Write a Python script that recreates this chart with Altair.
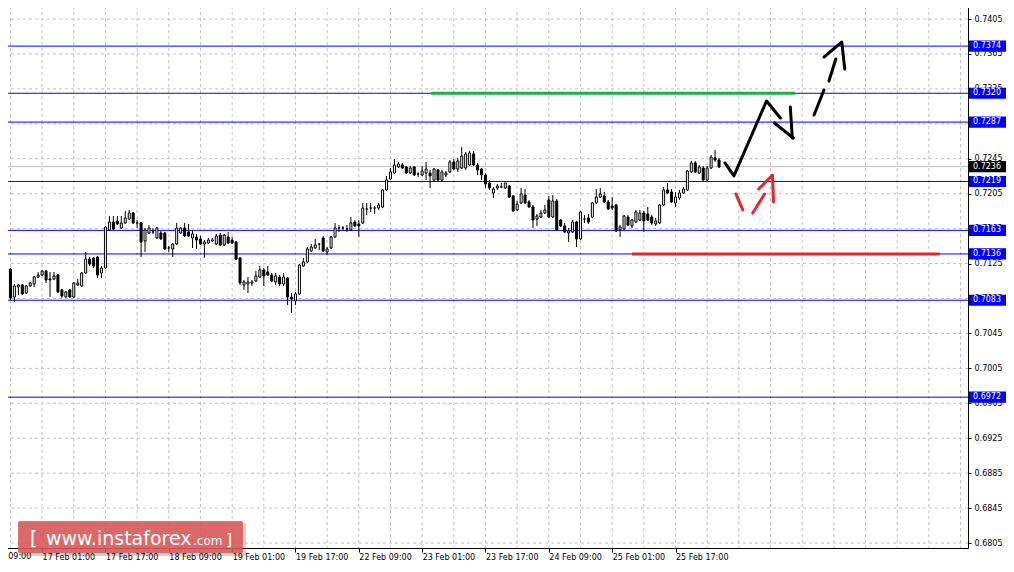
import altair as alt
import pandas as pd

# ---------------- candle data (H1 bars, index = bar number) ----------------
opens = [
    0.71440, 0.71188, 0.70867, 0.70982, 0.71005, 0.70913, 0.70993, 0.71016, 0.71096, 0.71119,
    0.71165, 0.71073, 0.71073, 0.71119, 0.70948, 0.70867, 0.70948, 0.70867, 0.71005, 0.70993,
    0.71142, 0.71302, 0.71314, 0.71325, 0.71142, 0.71199, 0.71635, 0.71726, 0.71738, 0.71657,
    0.71715, 0.71760, 0.71829, 0.71715, 0.71715, 0.71509, 0.71600, 0.71612, 0.71543, 0.71600,
    0.71600, 0.71428, 0.71417, 0.71474, 0.71600, 0.71657, 0.71612, 0.71543, 0.71554, 0.71532,
    0.71474, 0.71486, 0.71509, 0.71474, 0.71577, 0.71463, 0.71554, 0.71520, 0.71497, 0.71314,
    0.71005, 0.71016, 0.71028, 0.71051, 0.71096, 0.71177, 0.71154, 0.71119, 0.71039, 0.71096,
    0.71016, 0.71085, 0.70867, 0.70822, 0.70902, 0.71222, 0.71268, 0.71394, 0.71428, 0.71474,
    0.71543, 0.71383, 0.71428, 0.71554, 0.71657, 0.71657, 0.71646, 0.71635, 0.71726, 0.71703,
    0.71715, 0.71875, 0.71886, 0.71886, 0.71886, 0.71898, 0.72093, 0.72218, 0.72287, 0.72356,
    0.72379, 0.72356, 0.72287, 0.72356, 0.72276, 0.72264, 0.72287, 0.72287, 0.72207, 0.72322,
    0.72207, 0.72264, 0.72299, 0.72413, 0.72333, 0.72344, 0.72344, 0.72379, 0.72505, 0.72379,
    0.72333, 0.72264, 0.72173, 0.72058, 0.72115, 0.72127, 0.72115, 0.72138, 0.72024, 0.71864,
    0.71944, 0.72035, 0.71955, 0.71898, 0.71760, 0.71783, 0.71829, 0.71978, 0.71783, 0.71967,
    0.71749, 0.71680, 0.71600, 0.71612, 0.71726, 0.71532, 0.71760, 0.71772, 0.71783, 0.71944,
    0.72012, 0.72024, 0.71955, 0.71909, 0.71921, 0.71635, 0.71646, 0.71783, 0.71680, 0.71726,
    0.71749, 0.71829, 0.71818, 0.71783, 0.71703, 0.71715, 0.71921, 0.72093, 0.72070, 0.71944,
    0.72001, 0.72058, 0.72093, 0.72299, 0.72402, 0.72287, 0.72344, 0.72207, 0.72344, 0.72459, 0.72436,
]
closes = [
    0.71188, 0.70856, 0.70993, 0.71005, 0.70902, 0.70993, 0.71028, 0.71096, 0.71119, 0.71165,
    0.71062, 0.71062, 0.71108, 0.70925, 0.70879, 0.70925, 0.70867, 0.71028, 0.71028, 0.71142,
    0.71302, 0.71245, 0.71222, 0.71119, 0.71199, 0.71669, 0.71726, 0.71646, 0.71703, 0.71715,
    0.71772, 0.71829, 0.71715, 0.71715, 0.71497, 0.71635, 0.71657, 0.71612, 0.71657, 0.71532,
    0.71417, 0.71428, 0.71474, 0.71657, 0.71657, 0.71566, 0.71566, 0.71589, 0.71520, 0.71474,
    0.71497, 0.71520, 0.71520, 0.71566, 0.71463, 0.71577, 0.71486, 0.71486, 0.71302, 0.71028,
    0.71039, 0.71039, 0.71039, 0.71108, 0.71177, 0.71108, 0.71119, 0.71051, 0.71108, 0.71016,
    0.71096, 0.70867, 0.70845, 0.70902, 0.71234, 0.71268, 0.71417, 0.71440, 0.71463, 0.71474,
    0.71394, 0.71417, 0.71554, 0.71657, 0.71657, 0.71657, 0.71646, 0.71715, 0.71680, 0.71680,
    0.71886, 0.71875, 0.71886, 0.71886, 0.71921, 0.72093, 0.72207, 0.72299, 0.72379, 0.72390,
    0.72344, 0.72287, 0.72344, 0.72264, 0.72276, 0.72310, 0.72333, 0.72253, 0.72333, 0.72207,
    0.72299, 0.72287, 0.72413, 0.72333, 0.72425, 0.72482, 0.72505, 0.72516, 0.72379, 0.72322,
    0.72264, 0.72161, 0.72115, 0.72104, 0.72138, 0.72127, 0.72173, 0.72012, 0.71852, 0.71932,
    0.72047, 0.71944, 0.71898, 0.71749, 0.71795, 0.71829, 0.71864, 0.71783, 0.71967, 0.71635,
    0.71680, 0.71612, 0.71623, 0.71726, 0.71532, 0.71841, 0.71760, 0.71726, 0.71944, 0.72012,
    0.72047, 0.71955, 0.71875, 0.71886, 0.71623, 0.71669, 0.71795, 0.71692, 0.71749, 0.71841,
    0.71829, 0.71738, 0.71749, 0.71715, 0.71738, 0.71921, 0.72093, 0.72058, 0.71955, 0.72012,
    0.72058, 0.72104, 0.72310, 0.72402, 0.72299, 0.72356, 0.72207, 0.72344, 0.72470, 0.72436, 0.72356,
]
highs = [
    0.71497, 0.71199, 0.71016, 0.71016, 0.71016, 0.71005, 0.71039, 0.71108, 0.71154, 0.71177,
    0.71177, 0.71154, 0.71154, 0.71131, 0.70959, 0.70936, 0.70959, 0.71039, 0.71073, 0.71154,
    0.71383, 0.71325, 0.71325, 0.71337, 0.71222, 0.71680, 0.71795, 0.71795, 0.71795, 0.71795,
    0.71852, 0.71864, 0.71841, 0.71749, 0.71726, 0.71657, 0.71692, 0.71657, 0.71669, 0.71623,
    0.71612, 0.71451, 0.71486, 0.71715, 0.71669, 0.71715, 0.71703, 0.71635, 0.71589, 0.71566,
    0.71520, 0.71543, 0.71543, 0.71589, 0.71600, 0.71589, 0.71612, 0.71554, 0.71509, 0.71325,
    0.71062, 0.71096, 0.71062, 0.71165, 0.71222, 0.71199, 0.71222, 0.71142, 0.71142, 0.71119,
    0.71142, 0.71096, 0.70913, 0.70925, 0.71245, 0.71314, 0.71440, 0.71474, 0.71532, 0.71486,
    0.71566, 0.71440, 0.71566, 0.71715, 0.71692, 0.71680, 0.71692, 0.71783, 0.71749, 0.71749,
    0.71944, 0.71944, 0.71944, 0.71909, 0.71944, 0.72104, 0.72253, 0.72344, 0.72447, 0.72413,
    0.72402, 0.72367, 0.72367, 0.72367, 0.72299, 0.72367, 0.72413, 0.72322, 0.72344, 0.72333,
    0.72322, 0.72310, 0.72436, 0.72447, 0.72459, 0.72585, 0.72528, 0.72539, 0.72539, 0.72402,
    0.72344, 0.72287, 0.72207, 0.72127, 0.72161, 0.72173, 0.72173, 0.72150, 0.72035, 0.71967,
    0.72115, 0.72104, 0.71978, 0.71921, 0.71818, 0.71864, 0.71921, 0.72024, 0.72035, 0.71989,
    0.71760, 0.71715, 0.71657, 0.71749, 0.71738, 0.71852, 0.71806, 0.71818, 0.71955, 0.72104,
    0.72115, 0.72070, 0.71978, 0.72012, 0.71932, 0.71692, 0.71806, 0.71806, 0.71760, 0.71864,
    0.71864, 0.71852, 0.71898, 0.71806, 0.71772, 0.71932, 0.72127, 0.72173, 0.72104, 0.72070,
    0.72093, 0.72127, 0.72322, 0.72425, 0.72425, 0.72379, 0.72367, 0.72367, 0.72493, 0.72551, 0.72459,
]
lows = [
    0.71177, 0.70833, 0.70810, 0.70890, 0.70890, 0.70902, 0.70982, 0.70982, 0.71085, 0.71108,
    0.71028, 0.70867, 0.71062, 0.70913, 0.70856, 0.70856, 0.70856, 0.70856, 0.70993, 0.70982,
    0.71131, 0.71222, 0.71199, 0.71085, 0.71085, 0.71188, 0.71623, 0.71635, 0.71692, 0.71646,
    0.71703, 0.71749, 0.71703, 0.71657, 0.71325, 0.71383, 0.71589, 0.71589, 0.71532, 0.71520,
    0.71405, 0.71383, 0.71325, 0.71463, 0.71589, 0.71554, 0.71554, 0.71428, 0.71417, 0.71463,
    0.71314, 0.71474, 0.71497, 0.71463, 0.71451, 0.71451, 0.71474, 0.71474, 0.71291, 0.71005,
    0.70948, 0.70913, 0.70993, 0.71039, 0.71085, 0.70993, 0.71108, 0.71039, 0.71005, 0.70993,
    0.70993, 0.70776, 0.70684, 0.70776, 0.70890, 0.71211, 0.71257, 0.71383, 0.71417, 0.71405,
    0.71383, 0.71348, 0.71417, 0.71543, 0.71612, 0.71635, 0.71612, 0.71623, 0.71669, 0.71554,
    0.71703, 0.71806, 0.71841, 0.71818, 0.71864, 0.71886, 0.72081, 0.72207, 0.72276, 0.72344,
    0.72333, 0.72276, 0.72276, 0.72253, 0.72241, 0.72253, 0.72207, 0.72115, 0.72184, 0.72196,
    0.72184, 0.72241, 0.72287, 0.72322, 0.72299, 0.72333, 0.72322, 0.72367, 0.72367, 0.72264,
    0.72207, 0.72115, 0.72093, 0.72001, 0.72093, 0.72115, 0.72104, 0.72001, 0.71841, 0.71852,
    0.71932, 0.71932, 0.71886, 0.71657, 0.71680, 0.71772, 0.71818, 0.71772, 0.71772, 0.71623,
    0.71669, 0.71600, 0.71497, 0.71600, 0.71440, 0.71520, 0.71715, 0.71703, 0.71772, 0.71932,
    0.72001, 0.71944, 0.71864, 0.71864, 0.71612, 0.71554, 0.71635, 0.71680, 0.71657, 0.71715,
    0.71738, 0.71612, 0.71738, 0.71692, 0.71680, 0.71703, 0.71909, 0.72047, 0.71944, 0.71898,
    0.71978, 0.72047, 0.72081, 0.72287, 0.72287, 0.72276, 0.72196, 0.72196, 0.72333, 0.72413, 0.72344,
]
bar_index = list(range(len(opens)))

# ---------------- axis ticks ----------------
time_tick_index = [9, 25, 41, 57, 73, 89, 105, 121, 137, 153, 169]
time_tick_labels = ["17 Feb 01:00", "17 Feb 17:00", "18 Feb 09:00", "19 Feb 01:00",
                    "19 Feb 17:00", "22 Feb 09:00", "23 Feb 01:00", "23 Feb 17:00",
                    "24 Feb 09:00", "25 Feb 01:00", "25 Feb 17:00"]
partial_label_index = [-7]
partial_label_text = ["16 Feb 09:00"]
vgrid_index = list(range(1, 242, 8))
price_ticks = [0.6805, 0.6845, 0.6885, 0.6925, 0.6965, 0.7005, 0.7045, 0.7085,
               0.7125, 0.7165, 0.7205, 0.7245, 0.7285, 0.7325, 0.7365, 0.7405]

# ---------------- levels ----------------
level_prices = [0.7374, 0.7320, 0.7287, 0.7219, 0.7163, 0.7136, 0.7083, 0.6972]
bid_price = [0.7236]
tag_prices = level_prices + bid_price
tag_colors = ["#0000FF"] * len(level_prices) + ["#000000"]

seg_start = [107.25, 158.0]
seg_end = [199.25, 235.75]
seg_price = [0.7320, 0.7136]
seg_color = ["#1CAF3F", "#E3262B"]

# hand-drawn forecast arrows: stroke id, point order, bar index, price, colour
arrow_stroke = ["a", "a", "a", "a", "b", "b", "c", "c",
                "d", "d", "e", "e", "f", "f", "f",
                "g", "g", "h", "h", "i", "i", "i"]
arrow_order = [0, 1, 2, 3, 0, 1, 0, 1,
               0, 1, 0, 1, 0, 1, 2,
               0, 1, 0, 1, 0, 1, 2]
arrow_index = [181.5, 183.75, 192.0, 195.5, 194.0, 198.75, 198.0, 198.5,
               204.0, 206.5, 207.75, 209.5, 206.5, 211.0, 211.75,
               184.25, 186.0, 188.5, 191.5, 190.0, 193.5, 193.75]
arrow_price = [0.72402, 0.72253, 0.73112, 0.72917, 0.72860, 0.72688, 0.73043, 0.72688,
               0.72951, 0.73238, 0.73341, 0.73592, 0.73615, 0.73787, 0.73478,
               0.72047, 0.71864, 0.71829, 0.72047, 0.72104, 0.72264, 0.71955]
arrow_color = ["#000000"] * 15 + ["#E3262B"] * 7

X_DOMAIN = [-0.375, 241.625]
Y_DOMAIN = [0.67993, 0.74268]
FONT = "DejaVu Sans"

label_expr = "[" + ",".join("'%s'" % s for s in time_tick_labels) + "][round((datum.value-9)/16)]"

X_AXIS = alt.Axis(values=time_tick_index, labelExpr=label_expr, orient="bottom",
                  grid=False, domain=True, domainColor="black", domainWidth=1,
                  ticks=True, tickColor="black", tickSize=4, labelAlign="left",
                  labelBaseline="top", labelPadding=1, labelFont=FONT,
                  labelFontSize=8, labelColor="black", title=None,
                  labelOverlap=False, labelBound=False, labelFlush=False)
Y_AXIS = alt.Axis(values=price_ticks, format=".4f", orient="right", grid=False,
                  domain=True, domainColor="black", domainWidth=1, ticks=True,
                  tickColor="black", tickSize=3, labelPadding=3, labelFont=FONT,
                  labelFontSize=8, labelColor="black", title=None,
                  labelOverlap=False, labelFlush=False, labelBaseline="middle")
X_SCALE = alt.Scale(domain=X_DOMAIN, nice=False, zero=False)
Y_SCALE = alt.Scale(domain=Y_DOMAIN, nice=False, zero=False)


def xq(field):
    return alt.X(field, type="quantitative", scale=X_SCALE, axis=X_AXIS)


def yq(field):
    return alt.Y(field, type="quantitative", scale=Y_SCALE, axis=Y_AXIS)


candles = pd.DataFrame({"i": bar_index, "open": opens, "high": highs,
                        "low": lows, "close": closes})

# grid
vgrid = alt.Chart(pd.DataFrame({"i": vgrid_index})).mark_rule(
    color="#C0C0C0", strokeDash=[3, 3], strokeWidth=1).encode(x=xq("i"))
hgrid = alt.Chart(pd.DataFrame({"p": price_ticks})).mark_rule(
    color="#C0C0C0", strokeDash=[3, 3], strokeWidth=1).encode(y=yq("p"))

bid_line = alt.Chart(pd.DataFrame({"p": bid_price})).mark_rule(
    color="#C0C0C0", strokeWidth=1).encode(y=yq("p"))
level_lines = alt.Chart(pd.DataFrame({"p": level_prices})).mark_rule(
    color="#0000FF", strokeWidth=1).encode(y=yq("p"))

segs = alt.Chart(pd.DataFrame({"a": seg_start, "b": seg_end, "p": seg_price,
                               "c": seg_color})).mark_rule(strokeWidth=3).encode(
    x=xq("a"), x2="b", y=yq("p"), color=alt.Color("c:N", scale=None))

wicks = alt.Chart(candles).mark_rule(color="black", strokeWidth=1).encode(
    x=xq("i"), y=yq("low"), y2="high")

bodies = alt.Chart(candles).mark_bar(size=2, stroke="black", strokeWidth=1).encode(
    x=xq("i"), y=yq("open"), y2="close",
    fill=alt.condition("datum.close >= datum.open", alt.value("white"), alt.value("black")))

arrows = alt.Chart(pd.DataFrame({"s": arrow_stroke, "o": arrow_order, "i": arrow_index,
                                 "p": arrow_price, "c": arrow_color})).mark_line(
    strokeWidth=3, strokeCap="round", strokeJoin="round").encode(
    x=xq("i"), y=yq("p"), detail="s:N", order="o:Q",
    color=alt.Color("c:N", scale=None))

tags_df = pd.DataFrame({"p": tag_prices, "c": tag_colors})
tag_boxes = alt.Chart(tags_df).transform_calculate(
    top="datum.p + 0.00064", bot="datum.p - 0.00064").mark_rect().encode(
    x=alt.value(969), x2=alt.value(1006), y=yq("top"), y2="bot",
    color=alt.Color("c:N", scale=None))
tag_text = alt.Chart(tags_df).mark_text(
    align="left", baseline="middle", font=FONT, fontSize=8, color="white").encode(
    x=alt.value(973), y=yq("p"), text=alt.Text("p:Q", format=".4f"))

partial = alt.Chart(pd.DataFrame({"i": partial_label_index, "t": partial_label_text})).mark_text(
    align="left", baseline="top", font=FONT, fontSize=8, color="black").encode(
    x=xq("i"), y=alt.value(553), text="t:N")

# watermark
wm = pd.DataFrame({"k": [0]})
wm_shadow = alt.Chart(wm).mark_rect(color="#000000", opacity=0.18, cornerRadius=2).encode(
    x=alt.value(20), x2=alt.value(246), y=alt.value(523), y2=alt.value(556))
wm_box = alt.Chart(wm).mark_rect(color="#DC5A5A", opacity=0.88, cornerRadius=2).encode(
    x=alt.value(18), x2=alt.value(243), y=alt.value(521), y2=alt.value(553))
wm_text = alt.Chart(pd.DataFrame({
    "t": ["[", "www.instaforex", ".com", "]"],
    "px": [30, 46, 193, 226],
    "fs": [19, 19, 12, 16],
})).mark_text(align="left", baseline="alphabetic", font=FONT, color="white").encode(
    x=alt.X("px:Q", scale=None, axis=None), y=alt.value(545), text="t:N",
    size=alt.Size("fs:Q", scale=None, legend=None))

chart = alt.layer(
    vgrid, hgrid, bid_line, level_lines, segs, wicks, bodies, arrows,
    tag_boxes, tag_text, partial, wm_shadow, wm_box, wm_text
).properties(
    width=968, height=548,
    autosize=alt.AutoSizeParams(type="none"),
    padding={"left": -8, "top": -8, "right": 38, "bottom": 16},
    background="white",
).resolve_scale(size="independent").configure_view(strokeWidth=0)

chart.save("out.html", embed_options={"renderer": "svg", "actions": False})
